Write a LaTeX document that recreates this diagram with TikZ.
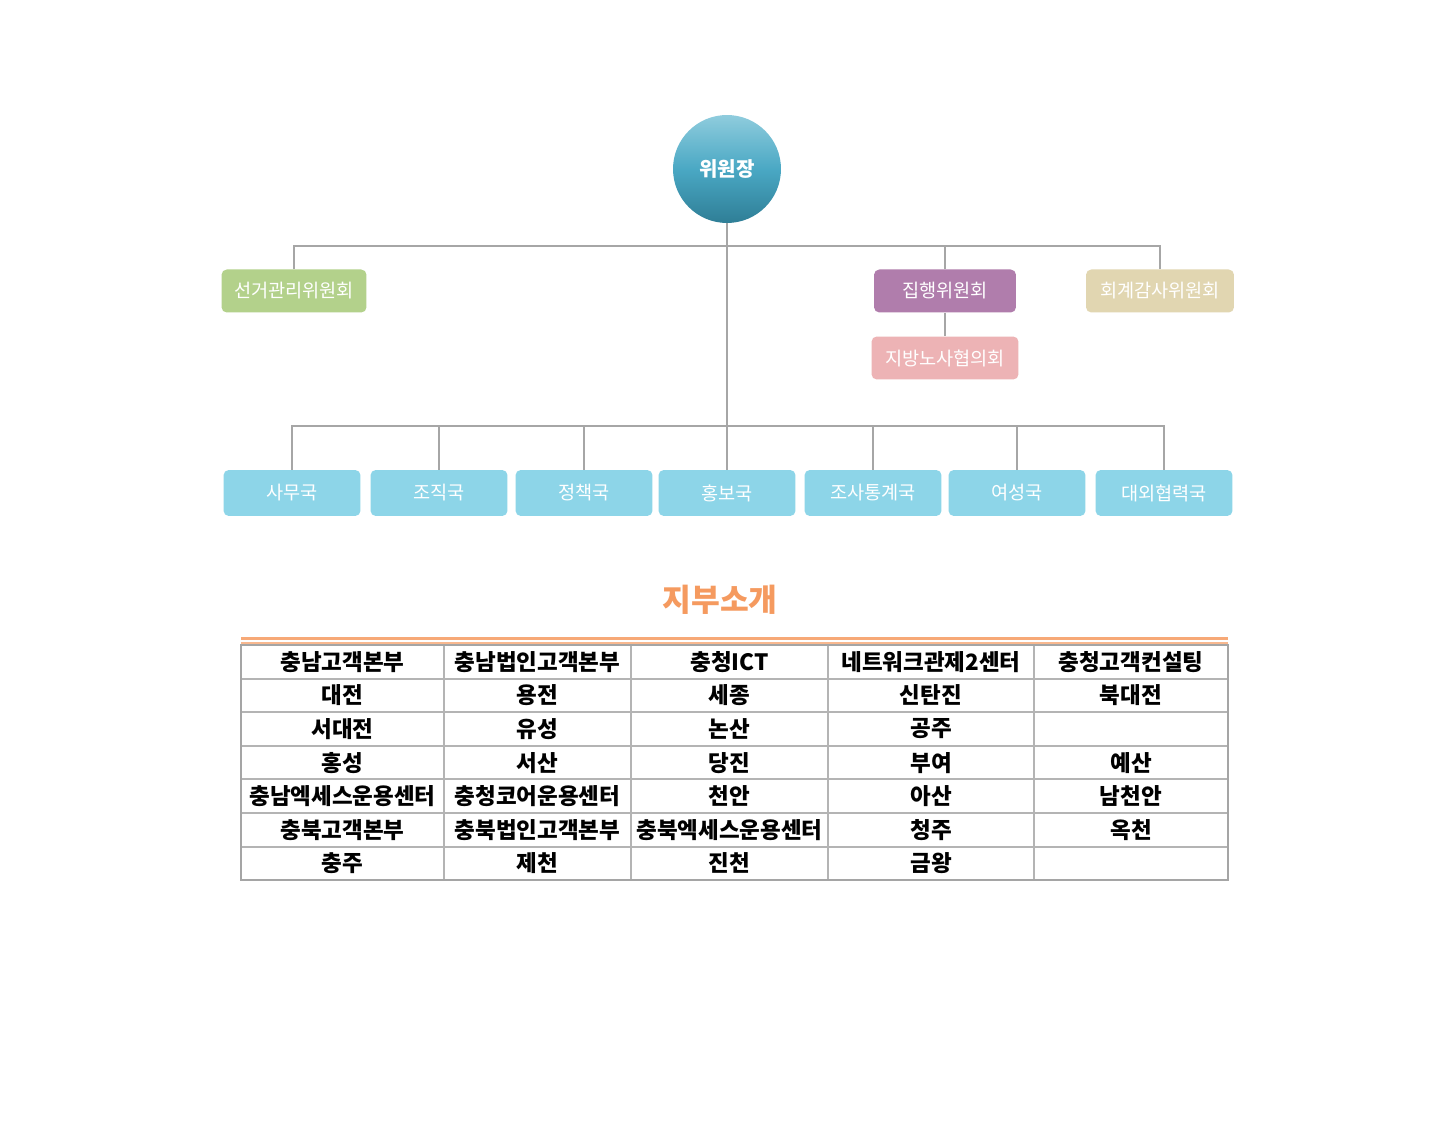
\documentclass[tikz,border=0pt]{standalone}
\usepackage{fontspec}
\setmainfont{Noto Sans CJK KR}
\usepackage{tikz}
\usetikzlibrary{positioning,calc,shapes.geometric}
\definecolor{linegray}{HTML}{A6A6A6}
\definecolor{chairtop}{HTML}{8FCCDD}
\definecolor{chairmid}{HTML}{4AA8C4}
\definecolor{chairbot}{HTML}{2F7E96}
\definecolor{electgreen}{HTML}{B3D18B}
\definecolor{execpurple}{HTML}{B07DAC}
\definecolor{auditbeige}{HTML}{E1D6B1}
\definecolor{councilpink}{HTML}{EDB3B5}
\definecolor{deptblue}{HTML}{8DD5E8}
\definecolor{titleorange}{HTML}{F59A5F}
\definecolor{gridgray}{HTML}{B4B4B4}

\begin{document}
\begin{tikzpicture}[x=0.02cm,y=-0.02cm,
  box/.style={rectangle,rounded corners=3pt,text=white,inner sep=0pt,
    font=\fontsize{10.6}{12}\selectfont,minimum width=2.9cm,minimum height=0.86cm},
  dept/.style={box,fill=deptblue,minimum width=2.74cm,minimum height=0.92cm},
  link/.style={draw=linegray,line width=1pt},
  cell/.style={inner sep=0pt,font=\bfseries\fontsize{12.8}{14}\selectfont}]
  % Define coordinates
  \useasboundingbox[fill=white] (0,0) rectangle (1451,1148);
  \node[circle,minimum size=2.16cm,top color=chairtop,bottom color=chairbot,
    middle color=chairmid,text=white,font=\bfseries\fontsize{11.4}{13}\selectfont]
    (chair) at (727,169) {위원장};
  \node[box,fill=electgreen] (elect) at (294,291) {선거관리위원회};
  \node[box,fill=execpurple,minimum width=2.84cm] (exec) at (945,291) {집행위원회};
  \node[box,fill=auditbeige,minimum width=2.96cm] (audit) at (1160,291) {회계감사위원회};
  \node[box,fill=councilpink,minimum width=2.94cm] (council) at (945,358) {지방노사협의회};
  \foreach \i/\xx/\lbl in {1/292/사무국,2/439/조직국,3/584/정책국,4/727/홍보국,
      5/873/조사통계국,6/1017/여성국,7/1164/대외협력국}
    \node[dept] (dept\i) at (\xx,493) {\lbl};
  % connectors
  \coordinate (upbus) at (727,246);
  \coordinate (lowbus) at (727,426);
  \draw[link] (chair.south) -- (dept4.north);
  \draw[link] (elect.north) |- (upbus) -| (audit.north);
  \draw[link] (exec.north) -- (exec.north |- upbus);
  \draw[link] (exec.south) -- (council.north);
  \draw[link] (dept1.north) |- (lowbus) -| (dept7.north);
  \foreach \i in {2,3,5,6}
    \draw[link] (dept\i.north) -- (dept\i.north |- lowbus);
  % branch table
  \node[text=titleorange,font=\bfseries\fontsize{17.8}{20}\selectfont] (title) at (720,600) {지부소개};
  \draw[titleorange!85,line width=1.6pt] (241,638.5) -- (1228,638.5);
  \draw[titleorange!70,line width=0.6pt] (241,643) -- (1228,643);
  \foreach \yy in {679,712,746,779,813,847}
    \draw[gridgray,line width=0.8pt] (241,\yy) -- (1228,\yy);
  \foreach \xx in {444,631,828,1034}
    \draw[gridgray,line width=0.8pt] (\xx,645) -- (\xx,880);
  \draw[gridgray!120,line width=1pt] (241,645) rectangle (1228,880);
  \foreach \r/\a/\b/\c/\d/\e in {1/충남고객본부/충남법인고객본부/충청ICT/네트워크관제2센터/충청고객컨설팅,
      2/대전/용전/세종/신탄진/북대전,
      3/서대전/유성/논산/공주/{},
      4/홍성/서산/당진/부여/예산,
      5/충남엑세스운용센터/충청코어운용센터/천안/아산/남천안,
      6/충북고객본부/충북법인고객본부/충북엑세스운용센터/청주/옥천,
      7/충주/제천/진천/금왕/{}}{
    \node[cell] (c\r-1) at (342.5,{645+33.6*(\r-0.5)}) {\a};
    \node[cell] (c\r-2) at (537.5,{645+33.6*(\r-0.5)}) {\b};
    \node[cell] (c\r-3) at (729.5,{645+33.6*(\r-0.5)}) {\c};
    \node[cell] (c\r-4) at (931,{645+33.6*(\r-0.5)}) {\d};
    \node[cell] (c\r-5) at (1131,{645+33.6*(\r-0.5)}) {\e};
  }
\end{tikzpicture}
\end{document}
